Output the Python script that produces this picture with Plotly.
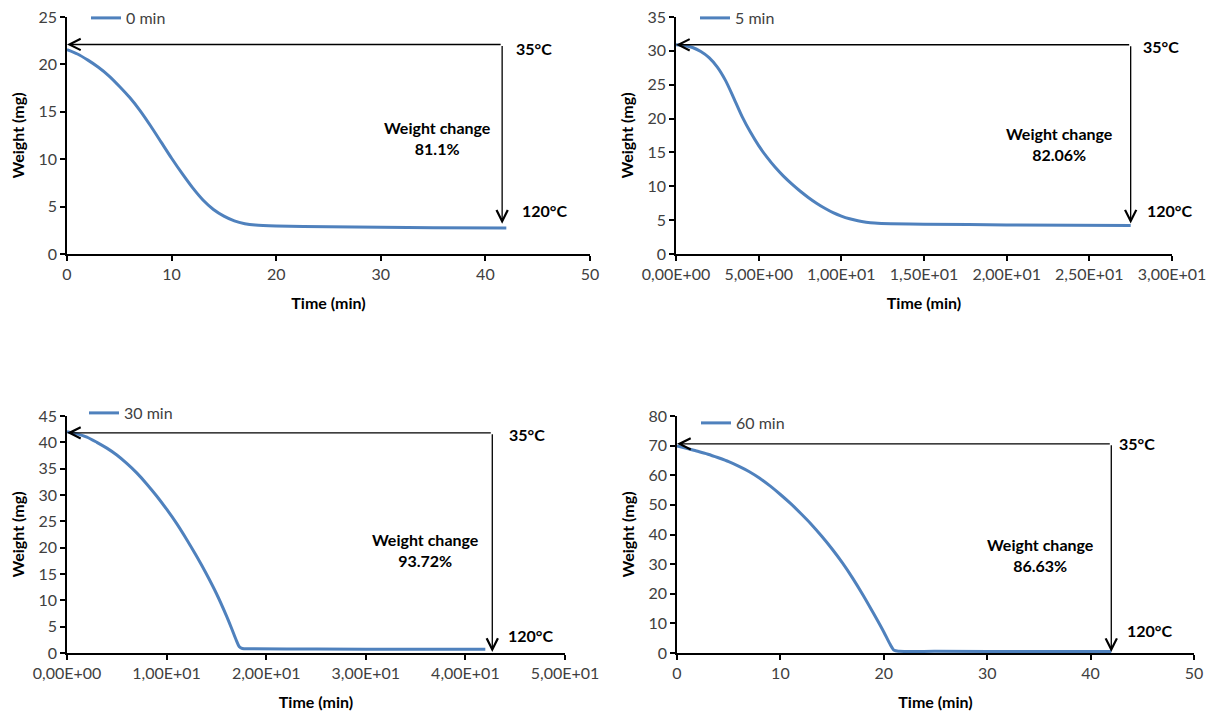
import plotly.graph_objects as go

# ---------------- data ----------------
series_names = ["0 min", "5 min", "30 min", "60 min"]

time_0 = [0, 1, 2, 3, 4, 5, 6, 7, 8, 9, 10, 11, 12, 13, 14, 15, 16, 17, 18, 20, 25, 30, 35, 42]
weight_0 = [21.56, 21.1, 20.45, 19.7, 18.8, 17.7, 16.5, 15.1, 13.5, 11.8, 10.1, 8.5, 7.0, 5.7, 4.7,
            4.0, 3.5, 3.2, 3.05, 2.95, 2.87, 2.82, 2.78, 2.75]

time_5 = [0, 0.5, 1, 1.5, 2, 2.5, 3, 3.5, 4, 4.5, 5, 5.5, 6, 6.5, 7, 7.5, 8, 8.5, 9, 9.5, 10, 10.5,
          11, 11.5, 12, 13, 15, 20, 27.5]
weight_5 = [30.9, 30.8, 30.5, 29.9, 29.0, 27.6, 25.6, 23.0, 20.3, 18.0, 16.0, 14.3, 12.8, 11.5, 10.35,
            9.3, 8.35, 7.5, 6.75, 6.1, 5.6, 5.2, 4.9, 4.7, 4.57, 4.46, 4.4, 4.3, 4.2]

time_30 = [0, 1, 2, 3, 4, 5, 6, 7, 8, 9, 10, 11, 12, 13, 14, 15, 16, 16.5, 17, 17.3, 17.6, 18.5, 25, 35, 42]
weight_30 = [42.0, 41.6, 41.0, 40.0, 38.9, 37.6, 36.0, 34.2, 32.1, 29.8, 27.3, 24.6, 21.6, 18.4, 15.0,
             11.3, 7.1, 4.8, 2.4, 1.2, 0.85, 0.8, 0.75, 0.72, 0.7]

time_60 = [0, 1, 2, 3, 4, 5, 6, 7, 8, 9, 10, 11, 12, 13, 14, 15, 16, 17, 18, 19, 20, 20.6, 21.0, 21.5,
           25, 35, 42.0]
weight_60 = [69.9, 69.0, 68.1, 67.1, 65.9, 64.6, 63.0, 61.2, 59.0, 56.4, 53.5, 50.4, 47.0, 43.4, 39.4,
             35.1, 30.4, 25.2, 19.5, 13.4, 7.1, 3.0, 0.9, 0.6, 0.55, 0.5, 0.5]

weight_change = ["81.1%", "82.06%", "93.72%", "86.63%"]
temp_start = "35°C"
temp_end = "120°C"

# arrow reference values (weight at 35°C level, end time, end weight)
arrow_top = [22.1, 30.9, 41.8, 70.6]
arrow_x = [41.6, 27.5, 42.7, 42.0]
arrow_bottom = [3.2, 4.5, 0.2, 0.3]

# axis ranges / ticks
x_max = [50, 30, 50, 50]
y_max = [25, 35, 45, 80]
x_step = [10, 5, 10, 10]
y_step = [5, 5, 5, 10]
x_sci = [False, True, True, False]

# label positions (data units)
lbl35 = [(42.7, 21.7), (28.1, 30.6), (44.2, 41.5), (42.6, 70.6)]
lbl120 = [(43.3, 4.6), (28.35, 6.4), (44.1, 3.4), (43.3, 7.5)]
lblwc = [(35.4, 12.2), (23.2, 16.3), (36.0, 19.65), (35.2, 33.2)]

times = [time_0, time_5, time_30, time_60]
weights = [weight_0, weight_5, weight_30, weight_60]

# ---------------- layout geometry (pixels) ----------------
W, H = 1223, 715
px_x = [(67, 590), (676, 1172), (67, 565), (677, 1194)]
px_y = [(17, 254), (17, 254), (416, 653), (416, 653)]
legend_px = [(86, 18), (695, 18), (84, 413), (696, 423)]

FONT = "Lato"
FS = 16
LINE_COLOR = "#4F81BD"
TICK_COLOR = "#404040"


def sci(v):
    if v == 0:
        return "0,00E+00"
    exp = 0
    m = float(v)
    while m >= 10:
        m /= 10
        exp += 1
    return f"{m:.2f}".replace(".", ",") + f"E+{exp:02d}"


fig = go.Figure()
annotations = []
layout_upd = {}

for i in range(4):
    n = "" if i == 0 else str(i + 1)
    xa, ya = "x" + n, "y" + n
    leg = "legend" + n
    fig.add_trace(go.Scatter(
        x=times[i], y=weights[i], mode="lines", name=series_names[i],
        line=dict(color=LINE_COLOR, width=3, shape="spline", smoothing=0.7),
        xaxis=xa, yaxis=ya, legend=leg, showlegend=True,
    ))
    x0, x1 = px_x[i]
    y0, y1 = px_y[i]
    xt = list(range(0, x_max[i] + 1, x_step[i]))
    layout_upd["xaxis" + n] = dict(
        domain=[x0 / W, x1 / W], anchor=ya, range=[0, x_max[i]],
        tickvals=xt, ticktext=[sci(v) if x_sci[i] else str(v) for v in xt],
        showline=True, linecolor="black", linewidth=1.5, ticks="outside",
        ticklen=5, tickwidth=1.5, tickcolor="black", showgrid=False, zeroline=False,
        tickfont=dict(family=FONT, size=FS, color=TICK_COLOR),
        title=dict(text="<b>Time (min)</b>", font=dict(family=FONT, size=FS, color="black"),
                   standoff=16),
        automargin=False, fixedrange=True,
    )
    layout_upd["yaxis" + n] = dict(
        domain=[1 - y1 / H, 1 - y0 / H], anchor=xa, range=[0, y_max[i]],
        tickvals=list(range(0, y_max[i] + 1, y_step[i])),
        showline=True, linecolor="black", linewidth=1.5, ticks="outside",
        ticklen=5, tickwidth=1.5, tickcolor="black", showgrid=False, zeroline=False,
        tickfont=dict(family=FONT, size=FS, color=TICK_COLOR),
        title=dict(text="<b>Weight (mg)</b>", font=dict(family=FONT, size=FS, color="black"),
                   standoff=10),
        automargin=False, fixedrange=True,
    )
    lx, ly = legend_px[i]
    layout_upd[leg] = dict(
        x=lx / W, y=1 - ly / H, xanchor="left", yanchor="middle",
        bgcolor="rgba(0,0,0,0)", font=dict(family=FONT, size=FS, color=TICK_COLOR),
        itemwidth=30,
    )

    # horizontal arrow to the y axis
    annotations.append(dict(
        x=0, y=arrow_top[i], ax=arrow_x[i], ay=arrow_top[i], xref=xa, yref=ya,
        axref=xa, ayref=ya, text="", showarrow=True, arrowhead=5, arrowsize=1.7,
        arrowwidth=1.3, arrowcolor="black", standoff=0, startstandoff=0,
    ))
    # vertical arrow down to the final weight
    annotations.append(dict(
        x=arrow_x[i], y=arrow_bottom[i], ax=arrow_x[i], ay=arrow_top[i], xref=xa, yref=ya,
        axref=xa, ayref=ya, text="", showarrow=True, arrowhead=5, arrowsize=1.7,
        arrowwidth=1.3, arrowcolor="black", standoff=0, startstandoff=0,
    ))
    annotations.append(dict(
        x=lbl35[i][0], y=lbl35[i][1], xref=xa, yref=ya, text="<b>" + temp_start + "</b>",
        showarrow=False, xanchor="left", yanchor="middle",
        font=dict(family=FONT, size=FS, color="black"),
    ))
    annotations.append(dict(
        x=lbl120[i][0], y=lbl120[i][1], xref=xa, yref=ya, text="<b>" + temp_end + "</b>",
        showarrow=False, xanchor="left", yanchor="middle",
        font=dict(family=FONT, size=FS, color="black"),
    ))
    annotations.append(dict(
        x=lblwc[i][0], y=lblwc[i][1], xref=xa, yref=ya,
        text="<b>Weight change<br>" + weight_change[i] + "</b>",
        showarrow=False, xanchor="center", yanchor="middle", align="center",
        font=dict(family=FONT, size=FS, color="black"),
    ))

fig.update_layout(
    width=W, height=H, margin=dict(l=0, r=0, t=0, b=0, autoexpand=False),
    paper_bgcolor="white", plot_bgcolor="white",
    annotations=annotations, **layout_upd,
)

fig.write_html(
    "out.html",
    config={"displayModeBar": False},
    post_script="document.body.style.margin='0';document.body.style.overflow='hidden';",
)
